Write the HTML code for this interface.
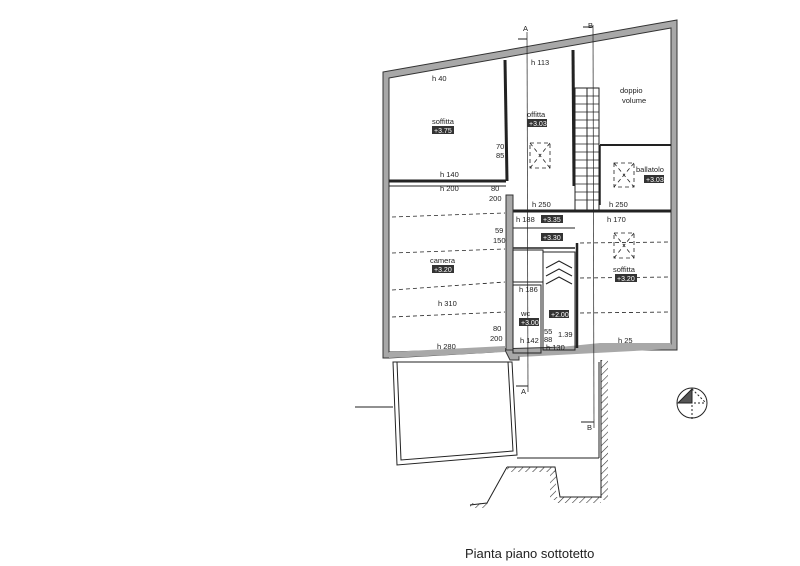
<!DOCTYPE html>
<html><head><meta charset="utf-8"><style>
html,body{margin:0;padding:0;background:#fff;}
svg{display:block;font-family:"Liberation Sans",sans-serif;}
.t{font-size:7.5px;fill:#222}
.b{font-size:7px;fill:#fff}
</style></head><body>
<svg width="800" height="566" viewBox="0 0 800 566" xmlns="http://www.w3.org/2000/svg">
<defs>
<pattern id="h" width="5" height="5" patternUnits="userSpaceOnUse" patternTransform="rotate(45)">
<line x1="0" y1="0" x2="0" y2="5" stroke="#333" stroke-width="1.2"/></pattern>
</defs>
<rect width="800" height="566" fill="#fff"/>
<g stroke="#222" fill="none" stroke-width="1">
<polygon points="383,72 677,20 677,350 600,350 600,346 519,354 519,360 510,360 505,350 495,352 389,358 383,358" fill="#a8a8a8" stroke="#333"/>
<polygon points="389,78 671,28 671,344 389,352" fill="#fff" stroke="#333"/>
<polygon points="389,352 505,346 505,352 389,358" fill="#a8a8a8" stroke="none"/>
<polygon points="512,352 600,343 671,343 671,349 520,357" fill="#a8a8a8" stroke="none"/>
<line x1="389" y1="181" x2="506" y2="181" stroke-width="3"/>
<line x1="389" y1="186" x2="506" y2="186"/>
<line x1="505" y1="60" x2="507" y2="181" stroke-width="3"/>
<line x1="573" y1="50" x2="574" y2="186" stroke-width="3"/>
<line x1="600" y1="145" x2="671" y2="145" stroke-width="2"/>
<line x1="600" y1="145" x2="600" y2="205" stroke-width="1.5"/>
<line x1="512" y1="211" x2="671" y2="211" stroke-width="3"/>
<line x1="512" y1="228" x2="575" y2="228"/>
<line x1="512" y1="248" x2="575" y2="248" stroke-width="1.5"/>
<rect x="506" y="195" width="7" height="155" fill="#a8a8a8" stroke="#333"/>
<rect x="513" y="250" width="30" height="32" />
<rect x="513" y="285" width="28" height="68" />
<rect x="543" y="252" width="32" height="98" />
<line x1="577" y1="243" x2="577" y2="348" stroke-width="2.5"/>
<rect x="575" y="88" width="24" height="122"/>
<line x1="587" y1="88" x2="587" y2="210"/>
<g stroke-width="0.7">
<line x1="575" y1="96" x2="599" y2="96"/><line x1="575" y1="104" x2="599" y2="104"/><line x1="575" y1="112" x2="599" y2="112"/><line x1="575" y1="120" x2="599" y2="120"/><line x1="575" y1="128" x2="599" y2="128"/><line x1="575" y1="136" x2="599" y2="136"/><line x1="575" y1="144" x2="599" y2="144"/><line x1="575" y1="152" x2="599" y2="152"/><line x1="575" y1="160" x2="599" y2="160"/><line x1="575" y1="168" x2="599" y2="168"/><line x1="575" y1="176" x2="599" y2="176"/><line x1="575" y1="184" x2="599" y2="184"/><line x1="575" y1="192" x2="599" y2="192"/><line x1="575" y1="200" x2="599" y2="200"/>
</g>
<polyline points="546,268 559,261 572,268"/><polyline points="546,276 559,269 572,276"/><polyline points="546,284 559,277 572,284"/>
<g stroke-dasharray="4,3" stroke-width="0.8">
<line x1="392" y1="217" x2="505" y2="213"/>
<line x1="392" y1="253" x2="505" y2="249"/>
<line x1="392" y1="290" x2="505" y2="282"/>
<line x1="392" y1="317" x2="505" y2="312"/>
<line x1="580" y1="243" x2="671" y2="242"/>
<line x1="580" y1="278" x2="671" y2="277"/>
<line x1="580" y1="313" x2="671" y2="312"/>
<rect x="530" y="143" width="20" height="25"/>
<line x1="530" y1="143" x2="550" y2="168"/><line x1="550" y1="143" x2="530" y2="168"/>
<rect x="614" y="163" width="20" height="24"/>
<line x1="614" y1="163" x2="634" y2="187"/><line x1="634" y1="163" x2="614" y2="187"/>
<rect x="614" y="233" width="20" height="25"/>
<line x1="614" y1="233" x2="634" y2="258"/><line x1="634" y1="233" x2="614" y2="258"/>
</g>
<line x1="527" y1="32" x2="528" y2="392" stroke-width="0.7"/>
<line x1="593" y1="25" x2="594" y2="428" stroke-width="0.7"/>
<line x1="518" y1="39" x2="527" y2="39"/><line x1="583" y1="27" x2="593" y2="27"/>
<line x1="516" y1="386" x2="528" y2="386"/><line x1="581" y1="422" x2="594" y2="422"/>
<!-- lower terrace -->
<polygon points="393,362 397,465 517,455 512,362" />
<polygon points="397,362 401,460 513,451 508,362" />
<line x1="355" y1="407" x2="393" y2="407"/>
<!-- right lower area -->
<line x1="599" y1="362" x2="599" y2="458"/>
<line x1="517" y1="458" x2="599" y2="458"/>
<rect x="601" y="360" width="7" height="140" fill="url(#h)" stroke="none"/>
<line x1="601" y1="360" x2="601" y2="498"/>
<polyline points="507,467 555,467 560,497 601,497"/>
<rect x="507" y="467" width="48" height="5" fill="url(#h)" stroke="none"/>
<rect x="550" y="470" width="6" height="30" fill="url(#h)" stroke="none"/>
<rect x="556" y="497" width="45" height="6" fill="url(#h)" stroke="none"/>
<polyline points="507,467 487,503 470,505"/>
<rect x="470" y="503" width="18" height="5" fill="url(#h)" stroke="none"/>
<circle cx="692" cy="403" r="15"/>
<polygon points="678,403 692,389 692,403" fill="#555"/>
<line x1="678" y1="403" x2="706" y2="403" stroke-dasharray="2,2"/>
<line x1="692" y1="389" x2="692" y2="420" stroke-dasharray="2,2"/>
<line x1="692" y1="389" x2="706" y2="403" stroke-dasharray="2,2"/>
</g>
<g class="t">
<text x="432" y="81">h 40</text>
<text x="531" y="65">h 113</text>
<text x="620" y="93">doppio</text><text x="622" y="103">volume</text>
<text x="432" y="124">soffitta</text>
<rect x="432" y="126" width="22" height="8" fill="#333"/><text class="b" x="434" y="133">+3.75</text>
<text x="527" y="117">offitta</text>
<rect x="527" y="119" width="20" height="8" fill="#333"/><text class="b" x="529" y="126">+3.03</text>
<text x="496" y="149">70</text><text x="496" y="158">85</text>
<text x="636" y="172">ballatolo</text>
<rect x="644" y="175" width="20" height="8" fill="#333"/><text class="b" x="646" y="182">+3.03</text>
<text x="440" y="177">h 140</text>
<text x="440" y="191">h 200</text>
<text x="491" y="191">80</text><text x="489" y="201">200</text>
<text x="532" y="207">h 250</text><text x="609" y="207">h 250</text>
<text x="516" y="222">h 188</text>
<rect x="541" y="215" width="22" height="8" fill="#333"/><text class="b" x="543" y="222">+3.35</text>
<text x="607" y="222">h 170</text>
<text x="495" y="233">59</text><text x="493" y="243">150</text>
<rect x="541" y="233" width="22" height="8" fill="#333"/><text class="b" x="543" y="240">+3.30</text>
<text x="430" y="263">camera</text>
<rect x="432" y="265" width="22" height="8" fill="#333"/><text class="b" x="434" y="272">+3.20</text>
<text x="613" y="272">soffitta</text>
<rect x="615" y="274" width="22" height="8" fill="#333"/><text class="b" x="617" y="281">+3.20</text>
<text x="519" y="292">h 186</text>
<text x="438" y="306">h 310</text>
<text x="521" y="316">wc</text>
<rect x="519" y="318" width="20" height="8" fill="#333"/><text class="b" x="521" y="325">+3.00</text>
<rect x="549" y="310" width="20" height="8" fill="#333"/><text class="b" x="551" y="317">+2.00</text>
<text x="493" y="331">80</text><text x="490" y="341">200</text>
<text x="544" y="334">55</text><text x="544" y="342">88</text><text x="558" y="337">1.39</text>
<text x="520" y="343">h 142</text>
<text x="546" y="350">h 130</text>
<text x="618" y="343">h 25</text>
<text x="437" y="349">h 280</text>
<text x="523" y="31">A</text><text x="588" y="28">B</text>
<text x="521" y="394">A</text><text x="587" y="430">B</text>
</g>
<text x="465" y="558" style="font-size:13px;fill:#222">Pianta piano sottotetto</text>
</svg>
</body></html>
